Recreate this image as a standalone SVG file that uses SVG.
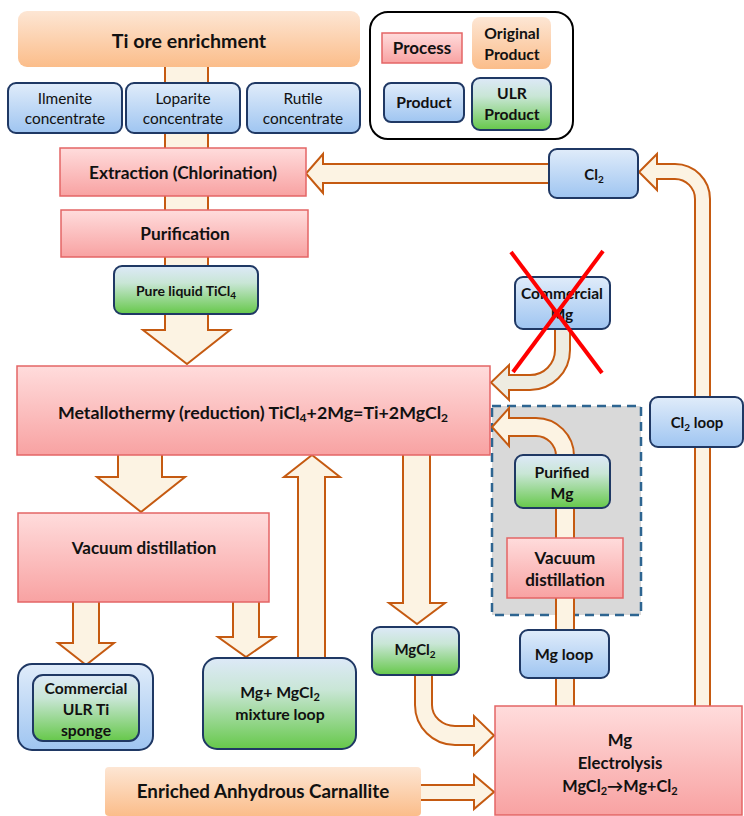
<svg xmlns="http://www.w3.org/2000/svg" width="744" height="816" viewBox="0 0 744 816">
<defs>
<linearGradient id="gProc" x1="0" y1="0" x2="0" y2="1"><stop offset="0" stop-color="#ffdcdc"/><stop offset="1" stop-color="#f8a2a2"/></linearGradient>
<linearGradient id="gProd" x1="0" y1="0" x2="0" y2="1"><stop offset="0" stop-color="#e0ecfa"/><stop offset="1" stop-color="#9fc5f1"/></linearGradient>
<linearGradient id="gUlr" x1="0" y1="0" x2="0" y2="1"><stop offset="0" stop-color="#dde9f8"/><stop offset="0.35" stop-color="#c9e6d6"/><stop offset="1" stop-color="#66c84a"/></linearGradient>
<linearGradient id="gOrig" x1="0" y1="0" x2="0" y2="1"><stop offset="0" stop-color="#fde6d4"/><stop offset="1" stop-color="#fbbd8a"/></linearGradient>
<style>
text{font-family:Lato,"Open Sans","Liberation Sans",sans-serif;font-weight:bold;fill:#111;text-anchor:middle;}
.n{font-weight:normal;}
.proc{fill:url(#gProc);stroke:#e46566;stroke-width:1.5;}
.prod{fill:url(#gProd);stroke:#1f3864;stroke-width:2;}
.ulr{fill:url(#gUlr);stroke:#1f3864;stroke-width:2;}
.orig{fill:url(#gOrig);stroke:none;}
.arr{fill:#fcf3e3;stroke:#c55a11;stroke-width:2;stroke-linejoin:miter;}
.arrg{fill:#eeece1;stroke:#c55a11;stroke-width:2;}
</style>
</defs>
<rect width="744" height="816" fill="#ffffff"/>
<g id="mg-purification-zone">
<rect x="492" y="406" width="149" height="209" fill="#d9d9d9" stroke="#2e6591" stroke-width="2.5" stroke-dasharray="9,6"/>
</g>
<g id="connectors">
<path class="arr" d="M165,60 V330 H143 L187,364 L230,330 H208 V60 Z"/>
<path class="arr" d="M560,164 H323 V154 L306,173.5 L323,193 V183 H560 Z"/>
<path class="arr" d="M695,720 V199 A20,20 0 0 0 675,179 H657 V190 L639,172 L657,154 V164 H675 A35,35 0 0 1 710,199 V720 Z"/>
<path class="arrg" d="M555,320 V350 A25,25 0 0 1 530,375 H509 V365 L491,382.5 L509,400 V390 H530 A40,40 0 0 0 570,350 V320 Z"/>
<path class="arr" d="M556,470 V456 A20,20 0 0 0 536,436 H509 V446 L492,427 L509,408 V418 H536 A38,38 0 0 1 574,456 V470 Z"/>
<rect class="arr" x="556" y="500" width="18" height="215"/>
<path class="arr" d="M118,450 V477 H97 L141,512 L185,477 H162 V450 Z"/>
<path class="arr" d="M73,595 V643 H58 L86,665 L114,643 H99 V595 Z"/>
<path class="arr" d="M233,595 V637 H218 L246,657 L275,637 H259 V595 Z"/>
<path class="arr" d="M298,665 V477 H284 L312,455 L340,477 H325 V665 Z"/>
<path class="arr" d="M403,450 V603 H389 L417,624 L445,603 H430 V450 Z"/>
<path class="arr" d="M415,665 V705 A40,40 0 0 0 455,745 H474 V755 L494,735.5 L474,716 V726 H455 A23,21 0 0 1 432,705 V665 Z"/>
<path class="arr" d="M410,785 H474 V775 L494,792 L474,809 V800 H410 Z"/>
</g>
<g id="ti-ore"><rect class="orig" x="18" y="11" width="342" height="56" rx="9"/><text x="189" y="48" font-size="19.6">Ti ore enrichment</text></g>
<g id="ilmenite"><rect class="prod" x="8" y="83" width="114" height="50" rx="8"/><text class="n" x="65" y="104" font-size="15.4">Ilmenite</text><text class="n" x="65" y="124" font-size="15.4">concentrate</text></g>
<g id="loparite"><rect class="prod" x="126" y="83" width="114" height="50" rx="8"/><text class="n" x="183" y="104" font-size="15.4">Loparite</text><text class="n" x="183" y="124" font-size="15.4">concentrate</text></g>
<g id="rutile"><rect class="prod" x="247" y="83" width="113" height="50" rx="8"/><text class="n" x="303" y="104" font-size="15.4">Rutile</text><text class="n" x="303" y="124" font-size="15.4">concentrate</text></g>
<g id="legend">
<rect x="370" y="12" width="203" height="127" rx="18" fill="#ffffff" stroke="#000" stroke-width="2"/>
<rect class="proc" x="382" y="33" width="80" height="30"/><text x="422" y="54" font-size="17">Process</text>
<rect class="orig" x="472" y="17" width="79" height="52" rx="8"/><text x="512" y="39" font-size="15.7">Original</text><text x="512" y="60" font-size="15.7">Product</text>
<rect class="prod" x="384" y="83" width="80" height="39" rx="7"/><text x="424" y="108" font-size="15.7">Product</text>
<rect class="ulr" x="472" y="78" width="79" height="52" rx="8"/><text x="512" y="99" font-size="15.7">ULR</text><text x="512" y="120" font-size="15.7">Product</text>
</g>
<g id="extraction"><rect class="proc" x="60" y="148" width="246" height="48"/><text x="183" y="179" font-size="17.3">Extraction (Chlorination)</text></g>
<g id="purification"><rect class="proc" x="61" y="210" width="247" height="47"/><text x="185" y="240" font-size="17.3">Purification</text></g>
<g id="ticl4"><rect class="ulr" x="114" y="266" width="144" height="48" rx="8"/><text x="186" y="296" font-size="14">Pure liquid TiCl<tspan font-size="10" dy="3">4</tspan></text></g>
<g id="cl2"><rect class="prod" x="549" y="149" width="89" height="49" rx="8"/><text x="594" y="180" font-size="15">Cl<tspan font-size="10" dy="3">2</tspan></text></g>
<g id="commercial-mg"><rect class="prod" x="515" y="277" width="95" height="52" rx="8"/><text x="562" y="299" font-size="15.5">Commercial</text><text x="562" y="320" font-size="15.5">Mg</text></g>
<g id="metallothermy"><rect class="proc" x="17" y="366" width="473" height="89"/><text x="253" y="419" font-size="17.8">Metallothermy (reduction) TiCl<tspan font-size="12" dy="3">4</tspan><tspan dy="-3">+2Mg=Ti+2MgCl</tspan><tspan font-size="12" dy="3">2</tspan></text></g>
<g id="cl2-loop"><rect class="prod" x="650" y="397" width="93" height="50" rx="8"/><text x="697" y="428" font-size="15">Cl<tspan font-size="10" dy="3">2</tspan><tspan dy="-3"> loop</tspan></text></g>
<g id="purified-mg"><rect class="ulr" x="515" y="455" width="95" height="53" rx="8"/><text x="562" y="478" font-size="15.7">Purified</text><text x="562" y="499" font-size="15.7">Mg</text></g>
<g id="vacuum-small"><rect class="proc" x="507" y="538" width="116" height="60"/><text x="565" y="564" font-size="17">Vacuum</text><text x="565" y="586" font-size="17">distillation</text></g>
<g id="mg-loop"><rect class="prod" x="520" y="630" width="89" height="48" rx="8"/><text x="564" y="660" font-size="16">Mg loop</text></g>
<g id="mgcl2"><rect class="ulr" x="372" y="627" width="87" height="48" rx="8"/><text x="415" y="655" font-size="15">MgCl<tspan font-size="10" dy="3">2</tspan></text></g>
<g id="vacuum-big"><rect class="proc" x="18" y="513" width="251" height="89"/><text x="144" y="554" font-size="17">Vacuum distillation</text></g>
<g id="ulr-ti-sponge"><rect class="prod" x="18" y="664" width="135" height="86" rx="14" stroke="#2f5597"/><rect class="ulr" x="33" y="675" width="106" height="66" rx="10"/><text x="86" y="694" font-size="15.7">Commercial</text><text x="86" y="715" font-size="15.7">ULR Ti</text><text x="86" y="736" font-size="15.7">sponge</text></g>
<g id="mixture-loop"><rect class="ulr" x="203" y="658" width="153" height="91" rx="14"/><text x="280" y="698" font-size="15.8">Mg+ MgCl<tspan font-size="11" dy="3">2</tspan></text><text x="280" y="720" font-size="15.8">mixture loop</text></g>
<g id="carnallite"><rect class="orig" x="105" y="767" width="316" height="49" rx="4"/><text x="263" y="798" font-size="18.8">Enriched Anhydrous Carnallite</text></g>
<g id="electrolysis"><rect class="proc" x="495" y="706" width="247" height="109"/><text x="620" y="746" font-size="16.8">Mg</text><text x="620" y="769" font-size="16.8">Electrolysis</text><text x="620" y="792" font-size="16.3">MgCl<tspan font-size="11" dy="3">2</tspan><tspan dy="-3">→Mg+Cl</tspan><tspan font-size="11" dy="3">2</tspan></text></g>
<g id="red-x"><line x1="511" y1="252" x2="602" y2="373" stroke="#ff0000" stroke-width="4"/><line x1="603" y1="251" x2="513" y2="372" stroke="#ff0000" stroke-width="4"/></g>
</svg>
